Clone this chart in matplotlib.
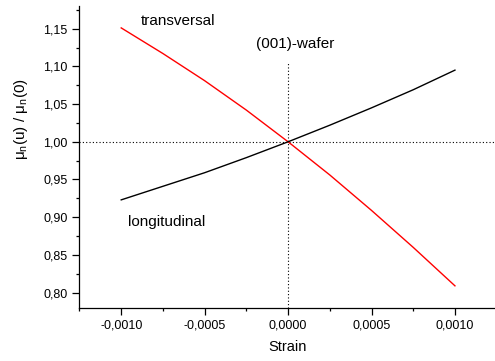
"""
Mobility ratio vs. strain for a (001)-wafer.

Plot transversal and longitudinal curves.
"""

import matplotlib

matplotlib.use("Agg")
import matplotlib.pyplot as plt
from matplotlib.ticker import FuncFormatter, MultipleLocator

# データ
strain = [-0.00100, -0.00075, -0.00050, -0.00025, 0.0, 0.00025, 0.00050, 0.00075, 0.00100]
transversal = [1.151, 1.117, 1.081, 1.042, 1.000, 0.956, 0.909, 0.860, 0.809]
longitudinal = [0.923, 0.941, 0.959, 0.979, 1.000, 1.022, 1.045, 1.069, 1.095]

x_ticks = [-0.0010, -0.0005, 0.0, 0.0005, 0.0010]
y_ticks = [0.80, 0.85, 0.90, 0.95, 1.00, 1.05, 1.10, 1.15]


def comma_fmt(digits):
    """Format numbers with a decimal comma."""
    return FuncFormatter(lambda v, pos: f"{v:.{digits}f}".replace(".", ","))


def main():
    """Draw the chart."""
    plt.rcParams["font.family"] = ["Liberation Sans", "DejaVu Sans"]
    plt.rcParams["mathtext.fontset"] = "custom"
    plt.rcParams["mathtext.rm"] = "Liberation Sans"
    plt.rcParams["axes.unicode_minus"] = False

    fig = plt.figure(figsize=(4.95, 3.61), dpi=100)
    ax = fig.add_axes([0.1606, 0.1476, 0.8394, 0.8357])

    # 補助線
    ax.axhline(1.0, color="black", linestyle=(0, (1, 2)), linewidth=0.8)
    ax.plot([0.0, 0.0], [0.78, 1.104], color="black", linestyle=(0, (1, 2)), linewidth=0.8)

    ax.plot(strain, transversal, color="red", linewidth=1.0)
    ax.plot(strain, longitudinal, color="black", linewidth=1.0)

    ax.text(-0.00066, 1.1597, "transversal", fontsize=11, ha="center", va="center")
    ax.text(0.00004, 1.129, "(001)-wafer", fontsize=11, ha="center", va="center")
    ax.text(-0.00073, 0.894, "longitudinal", fontsize=11, ha="center", va="center")

    ax.set_xlim(-0.00125, 0.00124)
    ax.set_ylim(0.78, 1.18)
    ax.set_xticks(x_ticks)
    ax.set_yticks(y_ticks)
    ax.xaxis.set_minor_locator(MultipleLocator(0.00025))
    ax.yaxis.set_minor_locator(MultipleLocator(0.025))
    ax.xaxis.set_major_formatter(comma_fmt(4))
    ax.yaxis.set_major_formatter(comma_fmt(2))
    ax.tick_params(which="major", direction="out", length=5, width=0.9, labelsize=9)
    ax.tick_params(which="minor", direction="out", length=2.5, width=0.9)

    for side in ["top", "right"]:
        ax.spines[side].set_visible(False)
    for side in ["left", "bottom"]:
        ax.spines[side].set_linewidth(0.9)

    ax.set_xlabel("Strain", fontsize=10.5, labelpad=6)
    ax.set_ylabel(r"μ$_\mathregular{n}$(u) / μ$_\mathregular{n}$(0)", fontsize=11)
    # ラベルは軸の中心より上に置かれている
    ax.yaxis.set_label_coords(-0.12, 0.625)

    fig.savefig("out.png", dpi=100)


if __name__ == "__main__":
    main()
